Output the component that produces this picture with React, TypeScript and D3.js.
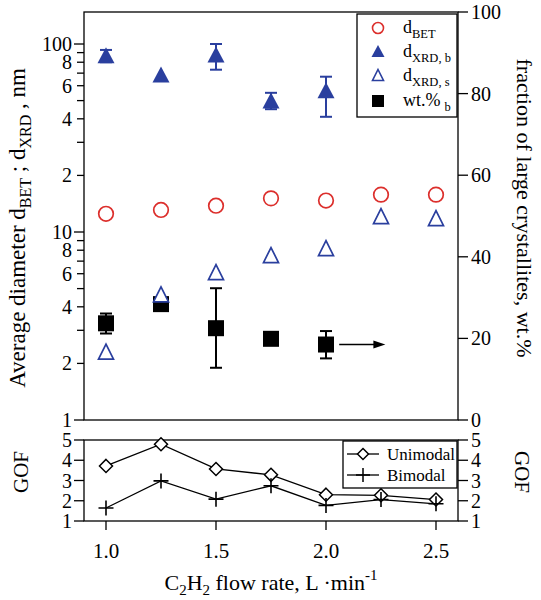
import React from "react";
import * as d3 from "d3";

// ---- data ----
const flowRates = [1.0, 1.25, 1.5, 1.75, 2.0, 2.25, 2.5];
const dBET = [12.5, 13.1, 13.8, 15.1, 14.7, 15.8, 15.8];
const dXRDs = [2.28, 4.6, 6.05, 7.45, 8.1, 12.0, 11.7];
const xrdBRates = [1.0, 1.25, 1.5, 1.75, 2.0];
const dXRDb = [86, 68, 87, 49.5, 56];
const dXRDbLow = [80, 68, 73, 45, 41];
const dXRDbHigh = [93, 68, 100, 55, 67];
const wtRates = [1.0, 1.25, 1.5, 1.75, 2.0];
const wtB = [23.7, 28.4, 22.5, 19.9, 18.5];
const wtLow = [21.2, 28.4, 12.8, 19.9, 15.1];
const wtHigh = [26.1, 28.4, 32.3, 19.9, 21.8];
const gofUni = [3.72, 4.79, 3.57, 3.28, 2.3, 2.27, 2.06];
const gofBi = [1.64, 2.98, 2.08, 2.74, 1.77, 2.06, 1.85];
const xTicks = [1.0, 1.5, 2.0, 2.5];
const rightTicks = [0, 20, 40, 60, 80, 100];
const gofTicks = [1, 2, 3, 4, 5];
const arrowFrom = 2.06;
const arrowTo = 2.27;

const FONT = "'Liberation Serif', 'Times New Roman', serif";
const RED = "#dc2f2c";
const BLUE = "#2a3f9e";

export default function App() {
  const L = 84, R = 458, T = 12, B = 420, GT = 440, GB = 521;
  const x = d3.scaleLinear().domain([0.9, 2.6]).range([L, R]);
  const yL = d3.scaleLog().domain([1, 148]).range([B, T]);
  const yR = d3.scaleLinear().domain([0, 100]).range([B, T]);
  const yG = d3.scaleLinear().domain([1, 5]).range([GB, GT]);

  const logTicks: { v: number; major: boolean; label: string | null }[] = [];
  [1, 10, 100].forEach((dec) => {
    for (let m = 1; m <= 9; m++) {
      const v = dec * m;
      if (v > 148) break;
      logTicks.push({
        v,
        major: m === 1,
        label: m === 1 ? String(v) : m % 2 === 0 ? String(m) : null,
      });
    }
  });

  const tri = (cx: number, cy: number, hw: number, up: number, down: number) =>
    `M${cx},${cy - up}L${cx + hw},${cy + down}L${cx - hw},${cy + down}Z`;
  const diamond = (cx: number, cy: number, s: number) =>
    `M${cx},${cy - s}L${cx + s},${cy}L${cx},${cy + s}L${cx - s},${cy}Z`;
  const plus = (cx: number, cy: number, s: number) =>
    `M${cx - s},${cy}L${cx + s},${cy}M${cx},${cy - s}L${cx},${cy + s}`;

  const line = d3
    .line<number>()
    .x((_, i) => x(flowRates[i]))
    .y((d) => yG(d));

  const tickFont = 20;
  const lw = 1.3;

  return (
    <svg width={541} height={600} style={{ position: "absolute", left: 0, top: 0, background: "#fff" }} fontFamily={FONT}>
      <rect x={0} y={0} width={541} height={600} fill="#fff" />
      {/* main frame */}
      <rect x={L} y={T} width={R - L} height={B - T} fill="none" stroke="#000" strokeWidth={lw} />
      {/* left log ticks */}
      {logTicks.map((t, i) => (
        <g key={"lt" + i}>
          <line x1={L - (t.major ? 10 : 7)} x2={L} y1={yL(t.v)} y2={yL(t.v)} stroke="#000" strokeWidth={lw} />
          {t.label && (
            <text x={L - 12} y={yL(t.v)} dy="0.35em" textAnchor="end" fontSize={tickFont}>
              {t.label}
            </text>
          )}
        </g>
      ))}
      {/* right ticks */}
      {rightTicks.map((v) => (
        <g key={"rt" + v}>
          <line x1={R} x2={R + 10} y1={yR(v)} y2={yR(v)} stroke="#000" strokeWidth={lw} />
          <text x={R + 13} y={yR(v)} dy="0.35em" fontSize={tickFont}>
            {v}
          </text>
        </g>
      ))}

      {/* d_BET circles */}
      {dBET.map((v, i) => (
        <circle key={"c" + i} cx={x(flowRates[i])} cy={yL(v)} r={7.3} fill="none" stroke={RED} strokeWidth={1.7} />
      ))}
      {/* d_XRD,b filled triangles with error bars */}
      {dXRDb.map((v, i) => {
        const cx = x(xrdBRates[i]);
        const lo = yL(dXRDbLow[i]);
        const hi = yL(dXRDbHigh[i]);
        return (
          <g key={"tb" + i}>
            {dXRDbLow[i] !== dXRDbHigh[i] && (
              <g stroke={BLUE} strokeWidth={2}>
                <line x1={cx} x2={cx} y1={lo} y2={hi} />
                <line x1={cx - 6} x2={cx + 6} y1={lo} y2={lo} />
                <line x1={cx - 6} x2={cx + 6} y1={hi} y2={hi} />
              </g>
            )}
            <path d={tri(cx, yL(v), 8.5, 9, 7)} fill={BLUE} />
          </g>
        );
      })}
      {/* wt.% squares with error bars */}
      {wtB.map((v, i) => {
        const cx = x(wtRates[i]);
        const lo = yR(wtLow[i]);
        const hi = yR(wtHigh[i]);
        return (
          <g key={"sq" + i}>
            {wtLow[i] !== wtHigh[i] && (
              <g stroke="#000" strokeWidth={2}>
                <line x1={cx} x2={cx} y1={lo} y2={hi} />
                <line x1={cx - 6} x2={cx + 6} y1={lo} y2={lo} />
                <line x1={cx - 6} x2={cx + 6} y1={hi} y2={hi} />
              </g>
            )}
            <rect x={cx - 8} y={yR(v) - 8} width={16} height={16} fill="#000" />
          </g>
        );
      })}
      {/* d_XRD,s open triangles */}
      {dXRDs.map((v, i) => (
        <path key={"ts" + i} d={tri(x(flowRates[i]), yL(v), 7.5, 8.5, 6.5)} fill="#fff" stroke={BLUE} strokeWidth={1.7} />
      ))}
      {/* arrow */}
      <line x1={x(arrowFrom)} x2={x(arrowTo) - 10} y1={yR(wtB[4])} y2={yR(wtB[4])} stroke="#000" strokeWidth={1.6} />
      <path
        d={`M${x(arrowTo)},${yR(wtB[4])}L${x(arrowTo) - 12},${yR(wtB[4]) - 4}L${x(arrowTo) - 12},${yR(wtB[4]) + 4}Z`}
        fill="#000"
      />

      {/* main legend */}
      <g>
        <rect x={357} y={14} width={100} height={103} fill="#fff" stroke="#000" strokeWidth={lw} />
        <circle cx={378} cy={28} r={5.5} fill="none" stroke={RED} strokeWidth={1.6} />
        <path d={tri(378, 52, 6.5, 7, 5)} fill={BLUE} />
        <path d={tri(378, 76, 5.5, 6.5, 4.5)} fill="#fff" stroke={BLUE} strokeWidth={1.6} />
        <rect x={372} y={95} width={12} height={12} fill="#000" />
        <g fontSize={18}>
          <text x={403} y={33}>
            d<tspan fontSize={12.5} dy={5}>BET</tspan>
          </text>
          <text x={403} y={57}>
            d<tspan fontSize={12.5} dy={5}>XRD, b</tspan>
          </text>
          <text x={403} y={81}>
            d<tspan fontSize={12.5} dy={5}>XRD, s</tspan>
          </text>
          <text x={403} y={106}>
            wt.%<tspan fontSize={12.5} dy={5} dx={4}>b</tspan>
          </text>
        </g>
      </g>

      {/* GOF panel */}
      <rect x={L} y={GT} width={R - L} height={GB - GT} fill="none" stroke="#000" strokeWidth={lw} />
      {gofTicks.map((v) => (
        <g key={"g" + v}>
          <line x1={L - 10} x2={L} y1={yG(v)} y2={yG(v)} stroke="#000" strokeWidth={lw} />
          <text x={L - 12} y={yG(v)} dy="0.35em" textAnchor="end" fontSize={tickFont}>
            {v}
          </text>
          <line x1={R} x2={R + 10} y1={yG(v)} y2={yG(v)} stroke="#000" strokeWidth={lw} />
          <text x={R + 13} y={yG(v)} dy="0.35em" fontSize={tickFont}>
            {v}
          </text>
        </g>
      ))}
      {xTicks.map((v) => (
        <g key={"x" + v}>
          <line x1={x(v)} x2={x(v)} y1={GB} y2={GB + 9} stroke="#000" strokeWidth={lw} />
          <text x={x(v)} y={558} textAnchor="middle" fontSize={21}>
            {v.toFixed(1)}
          </text>
        </g>
      ))}
      <path d={line(gofUni) || ""} fill="none" stroke="#000" strokeWidth={1.3} />
      <path d={line(gofBi) || ""} fill="none" stroke="#000" strokeWidth={1.3} />
      {gofUni.map((v, i) => (
        <path key={"u" + i} d={diamond(x(flowRates[i]), yG(v), 6.5)} fill="#fff" stroke="#000" strokeWidth={1.5} />
      ))}
      {gofBi.map((v, i) => (
        <path key={"b" + i} d={plus(x(flowRates[i]), yG(v), 7.5)} fill="none" stroke="#000" strokeWidth={1.6} />
      ))}
      {/* GOF legend */}
      <rect x={343} y={441} width={114} height={47} fill="#fff" stroke="#000" strokeWidth={lw} />
      <line x1={347} x2={379} y1={454} y2={454} stroke="#000" strokeWidth={1.3} />
      <path d={diamond(363, 454, 5.5)} fill="#fff" stroke="#000" strokeWidth={1.5} />
      <line x1={347} x2={379} y1={475} y2={475} stroke="#000" strokeWidth={1.3} />
      <path d={plus(363, 475, 7)} fill="none" stroke="#000" strokeWidth={1.5} />
      <text x={387} y={460} fontSize={17}>Unimodal</text>
      <text x={387} y={481} fontSize={17}>Bimodal</text>

      {/* axis titles */}
      <text transform="translate(25,228) rotate(-90)" textAnchor="middle" fontSize={23}>
        Average diameter d<tspan fontSize={16} dy={6}>BET</tspan>
        <tspan dy={-6}> ; d</tspan>
        <tspan fontSize={16} dy={6}>XRD</tspan>
        <tspan dy={-6}> , nm</tspan>
      </text>
      <text transform="translate(517,208) rotate(90)" textAnchor="middle" fontSize={22}>
        fraction of large crystallites, wt.%
      </text>
      <text transform="translate(28,472) rotate(-90)" textAnchor="middle" fontSize={21}>
        GOF
      </text>
      <text transform="translate(515,472) rotate(90)" textAnchor="middle" fontSize={21}>
        GOF
      </text>
      <text x={271} y={590} textAnchor="middle" fontSize={22}>
        C<tspan fontSize={15} dy={5}>2</tspan>
        <tspan dy={-5}>H</tspan>
        <tspan fontSize={15} dy={5}>2</tspan>
        <tspan dy={-5}> flow rate, L ·min</tspan>
        <tspan fontSize={15} dy={-10}>-1</tspan>
      </text>
    </svg>
  );
}
